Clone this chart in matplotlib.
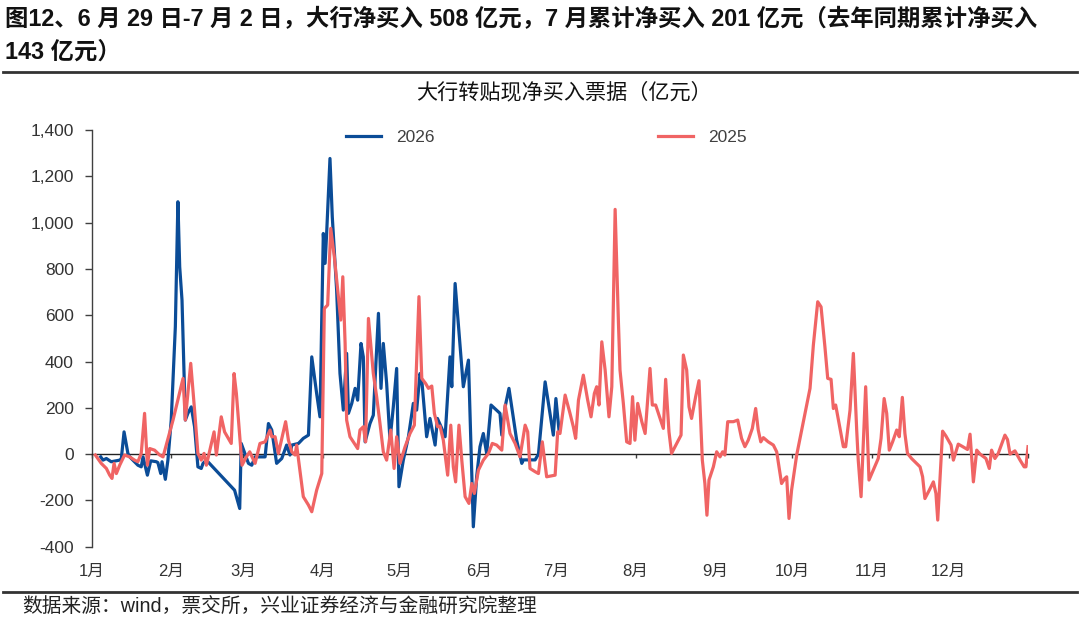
import matplotlib
matplotlib.use("Agg")
import matplotlib.pyplot as plt
from matplotlib.lines import Line2D

plt.rcParams['font.family'] = ['Liberation Sans', 'Noto Sans CJK SC', 'DejaVu Sans']

# ---------------- data (day of year offset, value in 亿元) ----------------
month_labels = ['1月', '2月', '3月', '4月', '5月', '6月', '7月', '8月', '9月', '10月', '11月', '12月']
month_start_days = [0, 31, 59, 90, 120, 151, 181, 212, 243, 273, 304, 334]
year_end_day = 365

y_ticks = [-400, -200, 0, 200, 400, 600, 800, 1000, 1200, 1400]

days_2026 = [3.4, 4.3, 5.6, 7.5, 10.8, 11.4, 12.5, 14.0, 14.7, 17.9,
             19.2, 19.9, 21.6, 22.9, 25.1, 25.7, 26.8, 27.3, 28.6, 29.6,
             30.9, 32.5, 33.5, 34.2, 35.1, 36.4, 37.4, 38.7, 40.0, 41.3,
             42.6, 43.3, 44.6, 55.6, 57.6, 58.2, 61.0, 62.3, 63.6, 67.5,
             68.8, 70.1, 72.0, 74.0, 75.9, 77.2, 77.9, 80.5, 82.4, 84.4,
             85.7, 87.6, 88.9, 90.2, 90.9, 91.5, 92.8, 93.7, 95.4, 96.7,
             98.0, 99.3, 100.0, 101.3, 102.6, 103.6, 104.9, 105.8, 106.5, 108.4,
             109.7, 111.7, 112.7, 113.6, 114.9, 116.2, 117.5, 118.8, 119.7, 121.4,
             123.4, 125.3, 126.6, 127.9, 128.6, 130.5, 131.8, 133.8, 134.7, 136.4,
             137.7, 139.6, 140.3, 141.6, 144.8, 146.8, 148.7, 150.0, 151.3, 152.6,
             153.9, 155.6, 159.1, 159.8, 161.1, 162.6, 165.6, 167.6, 168.2, 172.8,
             174.1, 176.7, 179.9, 180.9, 182.1]
values_2026 = [-12, -26, -19, -33, -26, -23, 96, 3, -12, -48,
               -55, -12, -91, -29, -33, -37, -84, -33, -109, -26,
               147, 550, 1090, 809, 665, 147, 176, 204, 118, -55,
               -62, -40, -26, -156, -235, 46, -40, -48, -12, -12,
               132, 104, -40, -19, 39, -4, 39, 46, 68, 82,
               420, 262, 161, 953, 824, 953, 1277, 1025, 708, 348,
               190, 435, 176, 219, 284, 233, 478, 420, 53, 132,
               168, 608, 284, 478, 305, 60, 204, 370, -141, -26,
               75, 219, 190, 348, 320, 75, 154, 39, 154, 111,
               75, 420, 291, 737, 291, 406, -314, -98, 32, 89,
               3, 212, 176, 82, 204, 284, 60, -40, -25, -25,
               0, 312, 82, 240, 104]

days_2025 = [1.3, 3.6, 5.6, 6.9, 7.8, 8.6, 9.5, 10.8, 12.7, 14.7,
             16.6, 17.9, 19.2, 20.5, 21.6, 22.5, 24.4, 26.4, 27.7, 31.6,
             35.5, 36.4, 38.5, 40.0, 41.3, 42.6, 43.7, 44.6, 47.6, 48.5,
             50.4, 51.7, 54.3, 55.4, 56.3, 58.5, 60.2, 61.5, 63.6, 65.5,
             67.5, 69.4, 70.1, 71.4, 72.7, 75.5, 76.6, 77.9, 79.2, 79.8,
             82.4, 84.4, 85.7, 87.6, 89.6, 90.6, 91.9, 93.1, 94.5, 96.1,
             97.0, 97.8, 98.7, 99.3, 100.6, 103.6, 104.5, 105.8, 106.7, 107.8,
             109.7, 111.0, 112.3, 113.6, 114.9, 116.5, 117.8, 118.8, 120.1, 122.1,
             124.0, 125.7, 127.5, 128.6, 130.1, 131.2, 132.5, 133.5, 134.8, 135.7,
             137.0, 138.7, 139.9, 140.9, 141.8, 143.1, 144.2, 145.5, 147.0, 148.1,
             149.1, 150.7, 152.6, 154.6, 156.1, 157.8, 159.8, 161.1, 163.0, 165.0,
             166.9, 168.9, 169.9, 170.8, 172.8, 174.1, 175.6, 177.3, 180.6, 181.6,
             182.5, 184.5, 186.4, 187.7, 188.6, 189.7, 191.6, 193.3, 194.6, 195.9,
             196.8, 197.7, 198.8, 200.1, 201.6, 202.7, 204.0, 205.3, 205.9, 207.2,
             208.5, 209.8, 210.8, 211.7, 212.8, 214.4, 215.7, 217.6, 218.5, 219.8,
             221.5, 222.8, 223.7, 225.0, 226.0, 228.0, 229.7, 230.6, 231.9, 232.8,
             233.8, 235.4, 236.7, 238.0, 239.0, 239.8, 240.6, 242.3, 243.6, 244.9,
             245.9, 246.8, 247.9, 250.1, 251.8, 253.3, 254.6, 255.9, 257.5, 258.8,
             259.8, 260.8, 261.8, 263.7, 265.7, 267.0, 268.3, 268.9, 270.2, 270.9,
             271.8, 272.8, 274.8, 280.0, 281.3, 283.0, 284.3, 285.8, 286.9, 288.2,
             289.1, 290.0, 293.0, 293.9, 295.6, 296.9, 298.2, 298.8, 299.9, 301.7,
             303.0, 306.6, 307.7, 308.9, 309.9, 310.9, 312.2, 313.8, 314.8, 316.0,
             317.0, 318.0, 319.6, 320.9, 322.9, 323.9, 324.8, 326.5, 328.1, 329.1,
             329.8, 331.7, 333.0, 335.0, 335.9, 337.8, 339.1, 341.4, 342.4, 343.7,
             345.0, 346.3, 348.6, 349.9, 350.8, 352.1, 353.4, 356.0, 357.0, 358.0,
             359.9, 361.9, 363.5, 364.2, 365.0]
values_2025 = [-4, -40, -62, -91, -105, -40, -84, -48, -4, -12,
               -26, -33, 3, 176, -48, 24, 17, -4, -12, 147,
               327, 147, 392, 190, 3, -26, 3, -48, 96, -4,
               161, 96, 46, 348, 262, -48, -12, 10, -40, 46,
               53, 104, 75, 75, 3, 140, 60, 10, -4, 39,
               -184, -220, -249, -156, -84, 629, 644, 975, 852, 680,
               579, 766, 478, 147, 75, 24, 104, 118, 53, 586,
               348, 248, 132, 10, -26, 104, -62, 75, -40, 32,
               89, 125, 680, 327, 305, 284, 294, 176, 118, 121,
               60, -91, 125, -55, -120, 125, -26, -184, -213, -127,
               -170, -69, -26, 3, 46, 39, 17, 212, 89, 46,
               -12, 125, 96, -62, -76, -84, 53, -98, -91, 96,
               89, 255, 176, 118, 68, 233, 341, 233, 161, 262,
               291, 212, 485, 363, 161, 291, 1057, 564, 363, 219,
               53, 46, 248, 60, 219, 140, 89, 370, 212, 212,
               154, 111, 323, 96, 3, 46, 82, 428, 363, 204,
               154, 248, 317, -26, -127, -264, -112, -55, 10, -12,
               10, -4, 140, 140, 147, 68, 32, 60, 111, 197,
               104, 53, 71, 53, 39, 10, -84, -127, -105, -98,
               -278, -156, -4, 284, 471, 658, 636, 464, 327, 323,
               197, 212, 32, 32, 190, 435, 104, -26, -184, 291,
               -112, -19, 68, 240, 176, 17, 53, 104, 75, 245,
               89, 3, -19, -33, -55, -98, -192, -156, -120, -170,
               -285, 99, 78, 39, -26, 43, 35, 20, 86, -120,
               17, 0, -19, -62, 17, -19, 3, 82, 63, 0,
               14, -26, -55, -55, 32]

BLUE = '#0B4C97'
RED = '#F06464'
GRAY = '#404040'

# ---------------- figure ----------------
W, H = 1080, 620
fig = plt.figure(figsize=(W / 100, H / 100), dpi=100)

ax = fig.add_axes([92 / W, (H - 546.7) / H, (1028 - 92) / W, (546.7 - 130) / H])
l26, = ax.plot(days_2026, values_2026, color=BLUE, lw=2.3, label='2026', zorder=3,
               solid_joinstyle='round')
l25, = ax.plot(days_2025, values_2025, color=RED, lw=2.3, label='2025', zorder=4,
               solid_joinstyle='round')

ax.set_xlim(0, year_end_day)
ax.set_ylim(-400, 1400)
ax.set_yticks(y_ticks)
ax.set_yticklabels([f'{v:,}' for v in y_ticks])
ax.tick_params(axis='y', direction='out', length=5, width=1, color=GRAY,
               labelsize=12.5, labelcolor='#333333', pad=8)

for s in ['top', 'right']:
    ax.spines[s].set_visible(False)
ax.spines['left'].set_color(GRAY)
ax.spines['left'].set_linewidth(1.0)
ax.spines['bottom'].set_position(('data', 0))
ax.spines['bottom'].set_color('#222222')
ax.spines['bottom'].set_linewidth(1.0)
ax.set_xticks(month_start_days + [year_end_day])
ax.tick_params(axis='x', direction='out', length=3, width=1, color=GRAY,
               labelbottom=False)
for d, lab in zip(month_start_days, month_labels):
    ax.text(d, -0.06, lab, transform=ax.get_xaxis_transform(), ha='center',
            va='center', fontsize=12, color='#333333')

leg = fig.legend([l26, l25], ['2026', '2025'], loc='upper left',
                 bbox_to_anchor=(346 / W, 1 - 130 / H), ncol=2, frameon=False,
                 fontsize=12.5, handlelength=2.0, handletextpad=0.9,
                 columnspacing=12.85, borderpad=0, borderaxespad=0)
for t in leg.get_texts():
    t.set_color(GRAY)

# ---------------- titles & notes ----------------
fig.text(5 / W, 1 - 20 / H,
         '图12、6 月 29 日-7 月 2 日，大行净买入 508 亿元，7 月累计净买入 201 亿元（去年同期累计净买入',
         ha='left', va='center', fontsize=16.8, fontweight='bold', color='#111111')
fig.text(5 / W, 1 - 52 / H, '143 亿元）', ha='left', va='center', fontsize=16.8,
         fontweight='bold', color='#111111')
fig.add_artist(Line2D([3 / W, 1077 / W], [1 - 71.5 / H] * 2, lw=2.0, color='#333333'))
fig.text(564 / W, 1 - 92.5 / H, '大行转贴现净买入票据（亿元）', ha='center', va='center',
         fontsize=15.2, color='#111111')
fig.add_artist(Line2D([3 / W, 1077 / W], [1 - 591.7 / H] * 2, lw=2.0, color='#333333'))
fig.text(22 / W, 1 - 607.5 / H, '数据来源：wind，票交所，兴业证券经济与金融研究院整理',
         ha='left', va='center', fontsize=14.2, color='#222222')

fig.savefig('out.png', dpi=100)
